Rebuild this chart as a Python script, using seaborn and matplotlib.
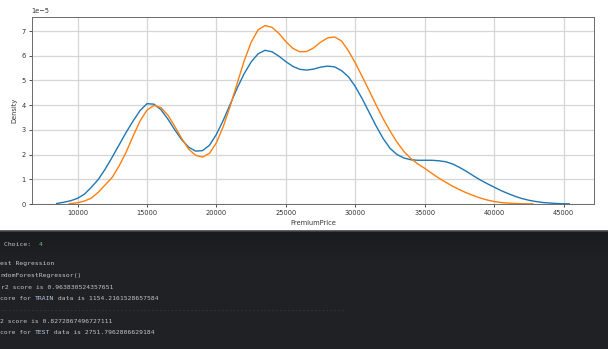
import numpy as np
import pandas as pd
import matplotlib
matplotlib.use("Agg")
import matplotlib.pyplot as plt
import seaborn as sns

# Density curves of PremiumPrice (values in units of 1e-5)
price_actual = [8500, 9000, 9500, 10000, 10500, 11000, 11500, 12000, 12500, 13000,
                13500, 14000, 14500, 15000, 15500, 16000, 16500, 17000, 17500, 18000,
                18500, 19000, 19500, 20000, 20500, 21000, 21500, 22000, 22500, 23000,
                23500, 24000, 24500, 25000, 25500, 26000, 26500, 27000, 27500, 28000,
                28500, 29000, 29500, 30000, 30500, 31000, 31500, 32000, 32500, 33000,
                33500, 34000, 34500, 35000, 35500, 36000, 36500, 37000, 37500, 38000,
                38500, 39000, 39500, 40000, 40500, 41000, 41500, 42000, 42500, 43000,
                43500, 44000, 44500, 45000, 45400]
density_actual = [0.02, 0.07, 0.13, 0.23, 0.40, 0.68, 1.00, 1.42, 1.90, 2.40,
                  2.90, 3.36, 3.78, 4.06, 4.04, 3.82, 3.44, 3.00, 2.60, 2.30,
                  2.14, 2.16, 2.38, 2.82, 3.40, 4.05, 4.70, 5.28, 5.75, 6.08,
                  6.22, 6.16, 5.98, 5.76, 5.57, 5.45, 5.42, 5.46, 5.54, 5.58,
                  5.55, 5.40, 5.15, 4.75, 4.25, 3.70, 3.15, 2.65, 2.25, 2.00,
                  1.86, 1.79, 1.77, 1.77, 1.77, 1.75, 1.71, 1.62, 1.48, 1.32,
                  1.14, 0.97, 0.82, 0.68, 0.54, 0.42, 0.31, 0.22, 0.15, 0.10,
                  0.06, 0.04, 0.02, 0.01, 0.005]

price_predicted = [9400, 10000, 10500, 11000, 11500, 12000, 12500, 13000, 13500, 14000,
                   14500, 15000, 15500, 16000, 16500, 17000, 17500, 18000, 18500, 19000,
                   19500, 20000, 20500, 21000, 21500, 22000, 22500, 23000, 23500, 24000,
                   24500, 25000, 25500, 26000, 26500, 27000, 27500, 28000, 28500, 29000,
                   29500, 30000, 30500, 31000, 31500, 32000, 32500, 33000, 33500, 34000,
                   34500, 35000, 35500, 36000, 36500, 37000, 37500, 38000, 38500, 39000,
                   39500, 40000, 40500, 41000, 41500, 42000, 42800]
density_predicted = [0.01, 0.05, 0.12, 0.24, 0.48, 0.78, 1.08, 1.55, 2.10, 2.75,
                     3.36, 3.80, 3.99, 3.90, 3.60, 3.14, 2.65, 2.22, 1.97, 1.90,
                     2.05, 2.48, 3.15, 3.98, 4.90, 5.80, 6.55, 7.05, 7.22, 7.15,
                     6.90, 6.57, 6.30, 6.16, 6.17, 6.32, 6.55, 6.72, 6.76, 6.60,
                     6.20, 5.70, 5.15, 4.58, 4.00, 3.45, 2.95, 2.50, 2.12, 1.84,
                     1.62, 1.44, 1.24, 1.05, 0.88, 0.72, 0.58, 0.45, 0.34, 0.24,
                     0.16, 0.10, 0.06, 0.035, 0.02, 0.01, 0.003]

x_ticks = [10000, 15000, 20000, 25000, 30000, 35000, 40000, 45000]
y_ticks = [0, 1, 2, 3, 4, 5, 6, 7]

# Console output shown under the chart (visible part of each line)
console_lines = [
    ("Choice:  ", "4"),
    "est Regression",
    "ndomForestRegressor()",
    "r2 score is 0.963830524357651",
    ("core for ", "TRAIN", " data is 1154.2161528657584"),
    "-" * 89,
    "2 score is 0.8272867496727111",
    ("core for ", "TEST", " data is 2751.7962806629184"),
]

df = pd.concat([
    pd.DataFrame({"PremiumPrice": price_actual,
                  "Density": np.array(density_actual) * 1e-5,
                  "series": "actual"}),
    pd.DataFrame({"PremiumPrice": price_predicted,
                  "Density": np.array(density_predicted) * 1e-5,
                  "series": "predicted"}),
])

W, H = 608, 349
fig = plt.figure(figsize=(W / 100, H / 100), dpi=100)
fig.patch.set_facecolor("white")


def fx(px):
    return px / W


def fy(py):
    return 1 - py / H


ax = fig.add_axes([fx(31.7), fy(204), fx(594.3) - fx(31.7), fy(16.7) - fy(204)])
sns.lineplot(data=df, x="PremiumPrice", y="Density", hue="series",
             palette=["#1f77b4", "#ff7f0e"], legend=False, linewidth=1.0,
             estimator=None, sort=True, ax=ax)

ax.set_xlim(6700, 47200)
ax.set_ylim(0, 7.58e-5)
ax.set_xticks(x_ticks)
ax.set_yticks([v * 1e-5 for v in y_ticks])
ax.grid(True, color="#d6d6d6", linewidth=0.9)
ax.set_axisbelow(True)
for s in ax.spines.values():
    s.set_color("#6a6a6a")
    s.set_linewidth(0.7)
ax.tick_params(labelsize=4.8, length=2.5, width=0.6, pad=2, colors="#333333")
ax.yaxis.get_offset_text().set_fontsize(4.8)
ax.yaxis.get_offset_text().set_color("#333333")
ax.set_xlabel("PremiumPrice", fontsize=4.8, labelpad=2.5, color="#333333")
ax.set_ylabel("Density", fontsize=4.8, labelpad=3, color="#333333")

# Dark console panel
term_top = 231
grad = fig.add_axes([0, 0, 1, fy(term_top)])
grad.set_axis_off()
shade = np.linspace(0, 1, 60)[:, None]
mix = np.minimum(shade * 4, 1)
cols = np.array([0x1a, 0x1b, 0x1d]) / 255 * (1 - mix) + \
       np.array([0x20, 0x21, 0x24]) / 255 * mix
grad.imshow(cols[:, None, :].repeat(2, axis=1), aspect="auto",
            extent=[0, 1, 0, 1], origin="upper")
grad.set_xlim(0, 1)
grad.set_ylim(0, 1)
fig.add_artist(plt.Line2D([0, 1], [fy(term_top), fy(term_top)],
                          transform=fig.transFigure, color="#45464a", linewidth=1.2))

fs = 4.6
cw = 0.602 * fs * 100 / 72
txt_color = "#c4c4c4"
mono = "DejaVu Sans Mono"
# (x, y) of the first character of each line
layout = [(4, 244), (0.5, 264), (0.5, 275.5), (1, 287.5),
          (0.5, 299), (0.5, 310.5), (0.5, 321.5), (0.5, 333)]
for i, (line, (vx, vy)) in enumerate(zip(console_lines, layout)):
    x0 = vx
    parts = line if isinstance(line, tuple) else (line,)
    for k, part in enumerate(parts):
        if i == 0 and k == 1:
            color = "#6cc070"
        elif len(parts) == 3 and k == 1:
            color = "#b8c8e8"
        elif part.startswith("---"):
            color = "#4a4b4f"
        else:
            color = txt_color
        fig.text(fx(x0), fy(vy), part, fontsize=fs, family=mono, color=color,
                 va="center", ha="left")
        x0 += len(part) * cw

fig.savefig("out.png", dpi=100)
